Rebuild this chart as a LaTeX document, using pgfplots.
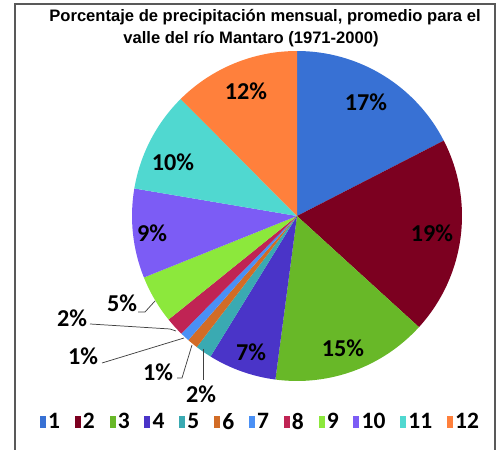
\documentclass[border=0pt]{standalone}
\usepackage{pgfplots}
\usepackage{pgfplotstable}
\pgfplotsset{compat=1.18}
\usepackage{fontspec}
\setmainfont{Liberation Sans}
\newfontfamily\calib{Carlito}

\definecolor{c1}{RGB}{56,113,212}
\definecolor{c2}{RGB}{124,0,32}
\definecolor{c3}{RGB}{104,184,40}
\definecolor{c4}{RGB}{74,52,200}
\definecolor{c5}{RGB}{58,170,178}
\definecolor{c6}{RGB}{210,108,38}
\definecolor{c7}{RGB}{74,144,245}
\definecolor{c8}{RGB}{192,36,84}
\definecolor{c9}{RGB}{140,232,60}
\definecolor{c10}{RGB}{124,92,245}
\definecolor{c11}{RGB}{80,216,208}
\definecolor{c12}{RGB}{255,128,60}

% monthly share of precipitation (%), label position in px
\pgfplotstableread{
mes valor col lx  ly
1   17.45 c1  366 102
2   19.31 c2  432 233
3   15.33 c3  343 348
4   6.69  c4  251 352
5   1.61  c5  201 394
6   1.06  c6  158 372
7   0.92  c7  83  356
8   1.83  c8  72  318
9   4.72  c9  122 303
10  8.75  c10 152 233
11  9.88  c11 173 162
12  12.45 c12 246 91
}\lluvia

\begin{document}
\begin{tikzpicture}
\begin{axis}[
  at={(0,0)}, anchor=south west,
  width=12cm, height=10.778cm, scale only axis,
  xmin=0, xmax=501, ymin=0, ymax=450, y dir=reverse,
  hide axis, clip=false,
  legend columns=12,
  legend image code/.code={\fill[#1, draw=none] (0cm,-0.14cm) rectangle (0.144cm,0.14cm);},
  legend style={at={(0.52,0.062)}, anchor=center, draw=none, fill=none,
    font=\calib\bfseries\fontsize{16}{17}\selectfont,
    nodes={inner sep=1.5pt},
    /tikz/every even column/.append style={column sep=0.3cm}},
]
% frame
\draw[black!65, line width=0.8pt] (axis cs:15,470) -- (axis cs:15,4) -- (axis cs:495,4) -- (axis cs:495,470);

% wedges, clockwise from 12 o'clock
\def\angA{90}
\pgfplotsforeachungrouped \i in {0,...,11}{
  \pgfplotstablegetelem{\i}{valor}\of\lluvia \let\val\pgfplotsretval
  \pgfplotstablegetelem{\i}{col}\of\lluvia \let\col\pgfplotsretval
  \pgfmathsetmacro\angB{\angA-3.6*\val}
  \edef\temp{\noexpand\fill[\col] (axis cs:297,216) -- ++(\angA:3.952cm)
    arc[start angle=\angA, end angle=\angB, radius=3.952cm] -- cycle;}
  \temp
  \let\angA\angB
}

% leader lines of the small wedges
\draw[black!75, line width=0.5pt] (axis cs:138,312) -- (axis cs:145,312) -- (axis cs:155,301);
\draw[black!75, line width=0.5pt] (axis cs:90,324) -- (axis cs:170,329) -- (axis cs:176,331);
\draw[black!75, line width=0.5pt] (axis cs:102,363) -- (axis cs:184,338);
\draw[black!75, line width=0.5pt] (axis cs:177,378) -- (axis cs:182,378) -- (axis cs:192,345);
\draw[black!75, line width=0.5pt] (axis cs:203,349) -- (axis cs:203,380);

% percentage labels
\pgfplotsforeachungrouped \i in {0,...,11}{
  \pgfplotstablegetelem{\i}{valor}\of\lluvia \let\val\pgfplotsretval
  \pgfplotstablegetelem{\i}{lx}\of\lluvia \let\lx\pgfplotsretval
  \pgfplotstablegetelem{\i}{ly}\of\lluvia \let\ly\pgfplotsretval
  \pgfmathtruncatemacro\lab{round(\val)}
  \edef\temp{\noexpand\node[font=\noexpand\calib\noexpand\bfseries\noexpand\fontsize{16.5}{18}\noexpand\selectfont, inner sep=0pt]
    at (axis cs:\lx,\ly) {\lab\noexpand\%};}
  \temp
}

% title
\node[font=\bfseries\fontsize{11.3}{13}\selectfont] at (axis cs:265,17) {Porcentaje de precipitación mensual, promedio para el};
\node[font=\bfseries\fontsize{11.3}{13}\selectfont] at (axis cs:251,39) {valle del río Mantaro (1971-2000)};

\addlegendimage{fill=c1}\addlegendentry{1}
\addlegendimage{fill=c2}\addlegendentry{2}
\addlegendimage{fill=c3}\addlegendentry{3}
\addlegendimage{fill=c4}\addlegendentry{4}
\addlegendimage{fill=c5}\addlegendentry{5}
\addlegendimage{fill=c6}\addlegendentry{6}
\addlegendimage{fill=c7}\addlegendentry{7}
\addlegendimage{fill=c8}\addlegendentry{8}
\addlegendimage{fill=c9}\addlegendentry{9}
\addlegendimage{fill=c10}\addlegendentry{10}
\addlegendimage{fill=c11}\addlegendentry{11}
\addlegendimage{fill=c12}\addlegendentry{12}
\end{axis}
\pgfresetboundingbox
\useasboundingbox (0,0) rectangle (12cm,10.778cm);
\end{tikzpicture}
\end{document}
